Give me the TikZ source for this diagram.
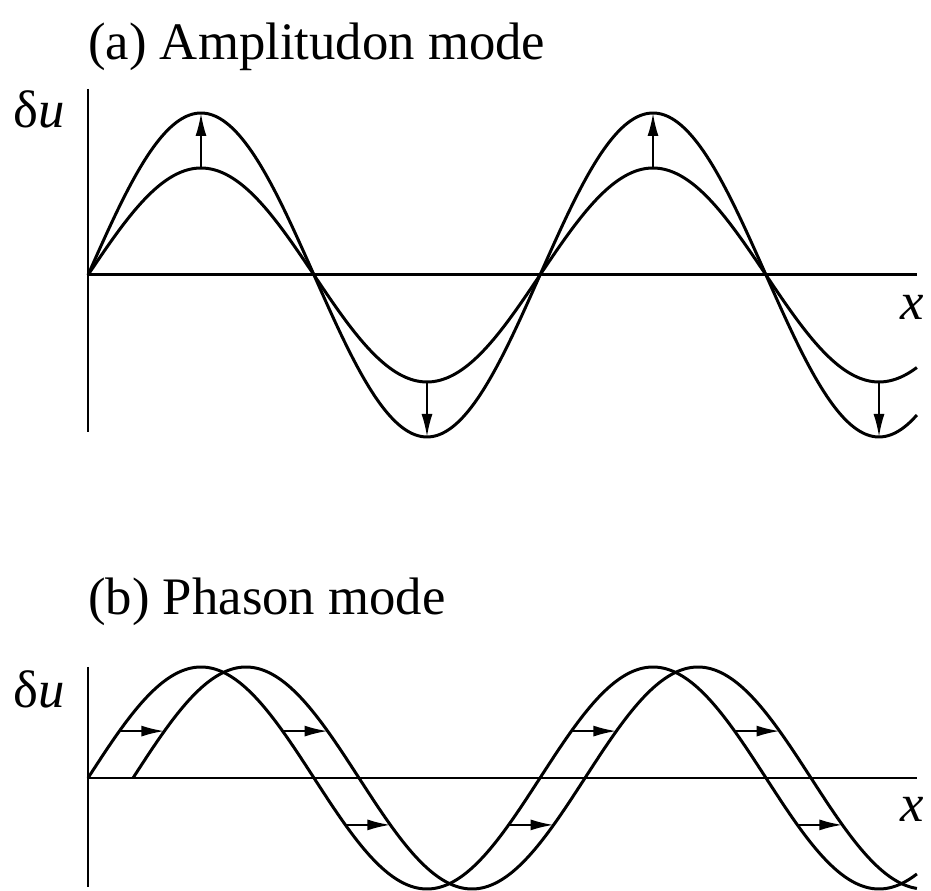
\documentclass[tikz,border=0pt]{standalone}
\usepackage{fontspec}
\setmainfont{Liberation Serif}
\usetikzlibrary{arrows.meta}

\tikzset{
  wave/.style={line width=1.7pt, samples=160, smooth},
  axisline/.style={line width=1.7pt},
  modearrow/.style={line width=1.2pt, -{Latex[length=0.46cm,width=0.22cm]}},
  modetext/.style={inner sep=0pt, anchor=base west, font=\fontsize{30}{36}\selectfont}
}

\begin{document}
\begin{tikzpicture}
\useasboundingbox (-1.76,-12.32) rectangle (16.86,5.5);

% (a) amplitudon
\node[modetext] (titleA) at (0,4.3) {(a) Amplitudon mode};
\node[modetext] (duA) at (-1.5,2.94) {δ\textit{u}};
\node[modetext] (xA) at (16.24,-0.9) {\textit{x}};
\coordinate (Atop) at (0,3.72);
\coordinate (Abot) at (0,-3.14);
\coordinate (Aorig) at (0,0);
\coordinate (Aend) at (16.58,0);
\draw[axisline] (Atop) -- (Abot);
\draw[axisline] (Aorig) -- (Aend);
\draw[wave, domain=0:16.58] plot (\x,{3.24*sin(\x*180/4.52)});
\draw[wave, domain=0:16.58] plot (\x,{2.14*sin(\x*180/4.52)});
\foreach \k/\sg in {1/1,2/-1,3/1,4/-1} {
  \coordinate (lo\k) at ({(2*\k-1)*2.26},{2.14*\sg});
  \coordinate (hi\k) at ({(2*\k-1)*2.26},{3.24*\sg});
  \draw[modearrow] (lo\k) -- (hi\k);
}

% (b) phason
\node[modetext] (titleB) at (0,-6.8) {(b) Phason mode};
\node[modetext] (duB) at (-1.5,-8.66) {δ\textit{u}};
\node[modetext] (xB) at (16.24,-10.92) {\textit{x}};
\coordinate (Btop) at (0,-7.84);
\coordinate (Bbot) at (0,-12.24);
\coordinate (Borig) at (0,-10.06);
\coordinate (Bend) at (16.58,-10.06);
\draw[axisline] (Btop) -- (Bbot);
\draw[axisline] (Borig) -- (Bend);
\draw[wave, domain=0:16.58] plot (\x,{-10.06+2.22*sin(\x*180/4.52)});
\draw[wave, domain=0.9:16.58] plot (\x,{-10.06+2.22*sin((\x-0.9)*180/4.52)});
\foreach \p [count=\i] in {25,155,205,335,385,515,565} {
  \coordinate (old\i) at ({\p/180*4.52},{-10.06+2.22*sin(\p)});
  \coordinate (new\i) at ({\p/180*4.52+0.9},{-10.06+2.22*sin(\p)});
  \draw[modearrow] (old\i) -- (new\i);
}
\end{tikzpicture}
\end{document}
